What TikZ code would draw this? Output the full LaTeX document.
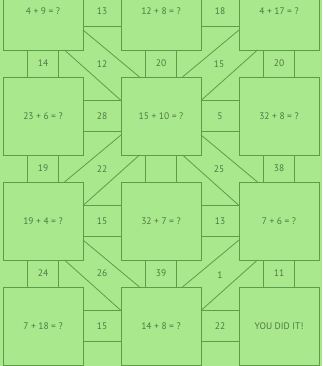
\documentclass[tikz,border=0pt]{standalone}
\usepackage{fontspec}
\setmainfont{PT Sans}
\usetikzlibrary{positioning}

\definecolor{paper}{RGB}{170,232,142}
\definecolor{rule}{RGB}{92,158,72}
\definecolor{ink}{RGB}{78,122,66}

\tikzset{
  box/.style={draw=rule, minimum width=80pt, minimum height=78pt, inner sep=0pt, text=ink, font=\fontsize{9.5}{10}\selectfont},
  hcell/.style={draw=rule, minimum width=38pt, minimum height=31pt, inner sep=0pt, text=ink, font=\fontsize{9.5}{10}\selectfont},
  vcell/.style={draw=rule, minimum width=31pt, minimum height=27pt, inner sep=0pt, text=ink, font=\fontsize{9.5}{10}\selectfont},
  divider/.style={draw=rule},
  tag/.style={text=ink, font=\fontsize{9.5}{10}\selectfont}
}

\begin{document}
\begin{tikzpicture}[x=1pt, y=-1pt, line width=0.8pt]

    % page
    \useasboundingbox (0,0) rectangle (322,366);
    \fill [paper] (0,0) rectangle (322,366);
    \clip (0,0) rectangle (322,366);

    % --- question boxes ---
    \node [box] (b11) at (43,11)  {4 + 9 = ?};
    \node [box] (b12) at (161,11) {12 + 8 = ?};
    \node [box] (b13) at (279,11) {4 + 17 = ?};
    \node [box] (b21) at (43,116)  {23 + 6 = ?};
    \node [box] (b22) at (161,116) {15 + 10 = ?};
    \node [box] (b23) at (279,116) {32 + 8 = ?};
    \node [box] (b31) at (43,221)  {19 + 4 = ?};
    \node [box] (b32) at (161,221) {32 + 7 = ?};
    \node [box] (b33) at (279,221) {7 + 6 = ?};
    \node [box] (b41) at (43,326)  {7 + 18 = ?};
    \node [box] (b42) at (161,326) {14 + 8 = ?};
    \node [box] (b43) at (279,326) {YOU DID IT!};

    % --- answer cells between boxes (side by side) ---
    \node [hcell] (h11) at (102,11)  {13};
    \node [hcell] (h12) at (220,11)  {18};
    \node [hcell] (h21) at (102,116) {28};
    \node [hcell] (h22) at (220,116) {5};
    \node [hcell] (h31) at (102,221) {15};
    \node [hcell] (h32) at (220,221) {13};
    \node [hcell] (h41) at (102,326) {15};
    \node [hcell] (h42) at (220,326) {22};

    % --- answer cells between boxes (one above the other) ---
    \node [vcell] (v11) at (43,63.5)   {14};
    \node [vcell] (v12) at (161,63.5)  {20};
    \node [vcell] (v13) at (279,63.5)  {20};
    \node [vcell] (v21) at (43,168.5)  {19};
    \node [vcell] (v22) at (161,168.5) {};
    \node [vcell] (v23) at (279,168.5) {38};
    \node [vcell] (v31) at (43,273.5)  {24};
    \node [vcell] (v32) at (161,273.5) {39};
    \node [vcell] (v33) at (279,273.5) {11};

    % --- diagonal lanes ---
    \draw [divider] (83,30) -- (139.5,77);
    \draw [divider] (64.5,50) -- (121,100.5);
    \node [tag] (d11) at (102,64) {12};

    \draw [divider] (239,30) -- (182.5,77);
    \draw [divider] (257.5,50) -- (201,100.5);
    \node [tag] (d12) at (219,64) {15};

    \draw [divider] (121,135) -- (64.5,182);
    \draw [divider] (139.5,155) -- (83,205.5);
    \node [tag] (d21) at (102,169) {22};

    \draw [divider] (201,135) -- (257.5,182);
    \draw [divider] (182.5,155) -- (239,205.5);
    \node [tag] (d22) at (219,169) {25};

    \draw [divider] (83,240) -- (139.5,287);
    \draw [divider] (64.5,260) -- (121,310.5);
    \node [tag] (d31) at (102,273) {26};

    \draw [divider] (239,240) -- (182.5,287);
    \draw [divider] (257.5,260) -- (201,310.5);
    \node [tag] (d32) at (220,275) {1};

\end{tikzpicture}
\end{document}
